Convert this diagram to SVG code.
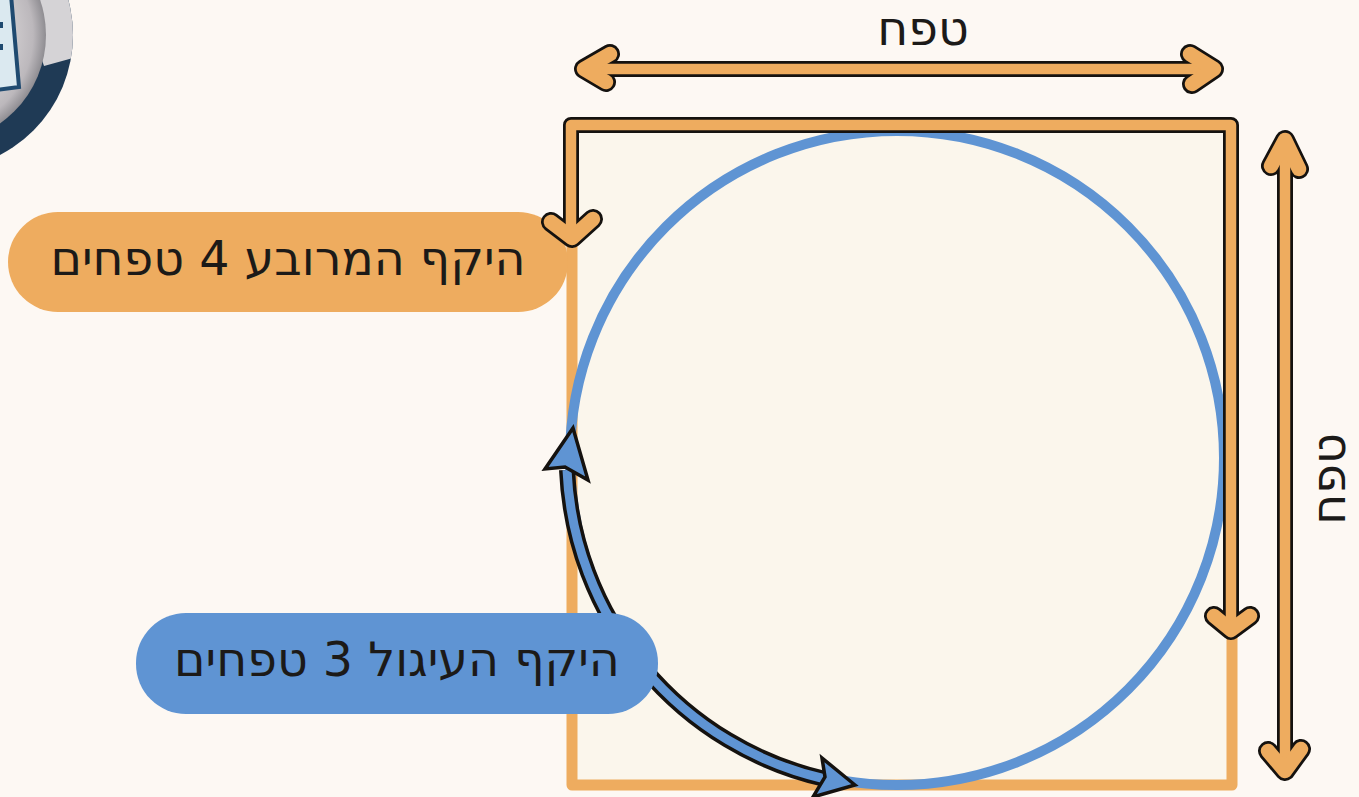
<svg xmlns="http://www.w3.org/2000/svg" width="1359" height="797" viewBox="0 0 1359 797">
<defs>
<radialGradient id="disc" gradientUnits="userSpaceOnUse" cx="-62" cy="35" r="108">
<stop offset="0.6" stop-color="#d6d3d5"/><stop offset="0.88" stop-color="#bcb8bc"/><stop offset="1" stop-color="#8f8d92"/>
</radialGradient>
<clipPath id="ring"><circle cx="-62" cy="35" r="135"/></clipPath>
</defs>
<style>
.k{fill:none;stroke:#15120f;stroke-width:16;stroke-linecap:round;stroke-linejoin:round}
.o{fill:none;stroke:#eeac5f;stroke-width:10.5;stroke-linecap:round;stroke-linejoin:round}
.kh{fill:none;stroke:#15120f;stroke-width:20;stroke-linecap:round;stroke-linejoin:round}
.oh{fill:none;stroke:#eeac5f;stroke-width:14.5;stroke-linecap:round;stroke-linejoin:round}
.b{fill:none;stroke:#5f94d3;stroke-width:10}
.t{font-family:"DejaVu Sans",sans-serif;font-size:47.5px;fill:#1c1a18;text-anchor:middle;direction:rtl}
</style>
<rect width="1359" height="797" fill="#fdf8f3"/>
<g id="icon">
<circle cx="-62" cy="35" r="135" fill="#1f3a55"/>
<path d="M80,-5V56L44,66L20,-5Z" fill="#d5d3d6" clip-path="url(#ring)"/>
<circle cx="-62" cy="35" r="108" fill="url(#disc)"/>
<path d="M-3,-5H11L19,87L-3,90Z" fill="#dbe9f0" stroke="#1f4a70" stroke-width="4"/>
<path d="M0,25H3M0,47H3" stroke="#1f4a70" stroke-width="6"/>
</g>
<g id="square">
<rect x="572" y="125" width="660" height="660" fill="#fbf6ec" stroke="#eeac5f" stroke-width="11" stroke-linejoin="round"/>
</g>
<g id="circle">
<circle cx="897" cy="458" r="327" class="b"/>
</g>
<g id="label-square">
<rect x="8" y="212" width="560" height="100" rx="50" fill="#eeac5f"/>
<text class="t" x="288" y="275">היקף המרובע 4 טפחים</text>
</g>
<g id="connectors">
<g id="perimeter-arrow">
<path class="k" d="M571,235V125H1231V628"/>
<path class="kh" d="M551,222L572,238L593,219M1214,616L1231,630L1250,616"/>
<path class="o" d="M571,235V125H1231V628"/>
<path class="oh" d="M551,222L572,238L593,219M1214,616L1231,630L1250,616"/>
</g>
<g id="width-arrow">
<path class="k" d="M590,69H1210"/>
<path class="kh" d="M610,54L584,69L606,82M1190,54L1214,69L1192,84"/>
<path class="o" d="M590,69H1210"/>
<path class="oh" d="M610,54L584,69L606,82M1190,54L1214,69L1192,84"/>
</g>
<g id="height-arrow">
<path class="k" d="M1285,145V768"/>
<path class="kh" d="M1271,166L1285,140L1299,169M1268,751L1285,771L1301,749"/>
<path class="o" d="M1285,145V768"/>
<path class="oh" d="M1271,166L1285,140L1299,169M1268,751L1285,771L1301,749"/>
</g>
<g id="arc-arrow" fill="#5f94d3" stroke="#15120f" stroke-width="3.5" stroke-linejoin="miter">
<path d="M567,470A332,332 0 0 0 825,779" fill="none" stroke="#15120f" stroke-width="16"/>
<path d="M567,470A332,332 0 0 0 825,779" fill="none" stroke="#5f94d3" stroke-width="9"/>
<path d="M573,428L545,469L565,467L588,480Z"/>
<path d="M855,785L822,758L825,777L813,797Z"/>
</g>
</g>
<g id="label-circle">
<rect x="136" y="613" width="522" height="101" rx="50" fill="#5f94d3"/>
<text class="t" x="397" y="676">היקף העיגול 3 טפחים</text>
</g>
<g id="label-top"><text class="t" x="923" y="45">טפח</text></g>
<g id="label-right"><text class="t" transform="translate(1345,479) rotate(-90)">טפח</text></g>
</svg>
